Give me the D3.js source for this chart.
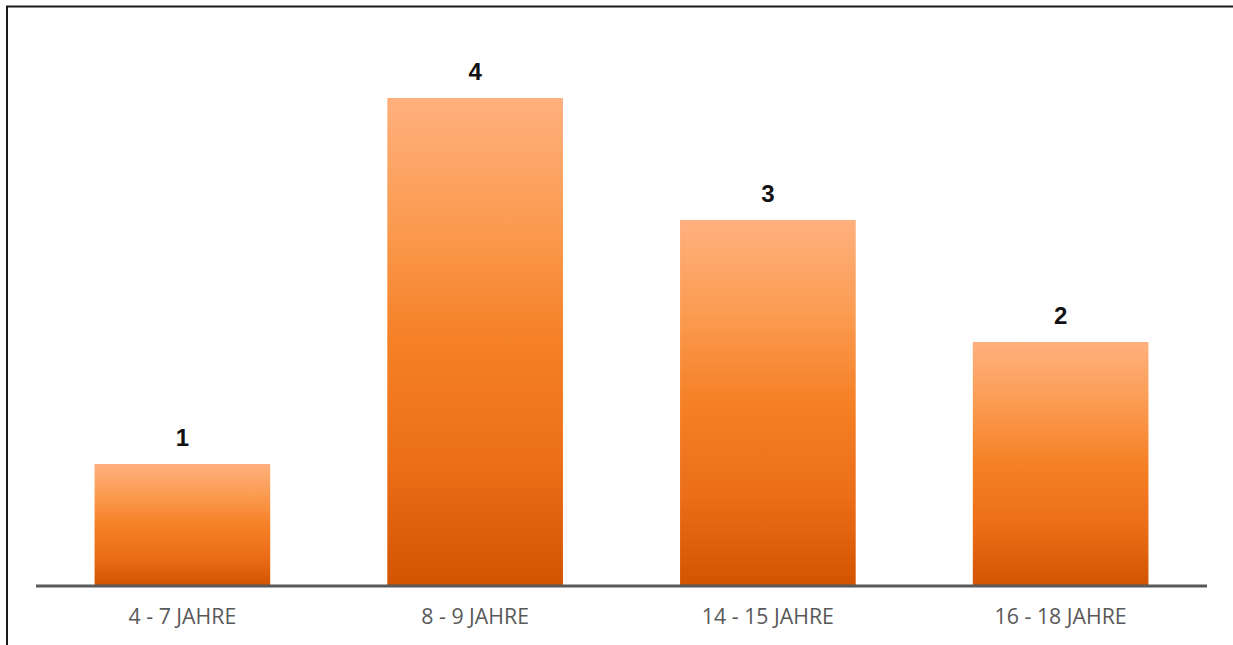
<!DOCTYPE html>
<html>
<head>
<meta charset="utf-8">
<script src="https://cdn.jsdelivr.net/npm/d3@7"></script>
<style>
  html, body { margin: 0; padding: 0; background: #fff; }
  svg { display: block; }
</style>
</head>
<body>
<div id="chart"></div>
<script>
// Age groups and number of participants per group
const categories = ["4 - 7 JAHRE", "8 - 9 JAHRE", "14 - 15 JAHRE", "16 - 18 JAHRE"];
const values = [1, 4, 3, 2];

const W = 1233, H = 645;
const margin = { left: 36, right: 26, top: 0, bottom: 59 };
const baseline = 586;

const svg = d3.select("#chart").append("svg")
  .attr("width", W).attr("height", H);

// Vertical gradient used for every bar
const defs = svg.append("defs");
const grad = defs.append("linearGradient")
  .attr("id", "barFill")
  .attr("x1", 0).attr("y1", 0).attr("x2", 0).attr("y2", 1);
[
  ["0%", "#ffb07e"],
  ["25%", "#fb9c52"],
  ["50%", "#f58026"],
  ["75%", "#ec6e19"],
  ["100%", "#d35400"]
].forEach(([o, c]) => grad.append("stop").attr("offset", o).attr("stop-color", c));

// Frame lines along the top and left edge
svg.append("line").attr("x1", 6).attr("x2", W).attr("y1", 6.5).attr("y2", 6.5)
  .attr("stroke", "#1a1a1a").attr("stroke-width", 2);
svg.append("line").attr("x1", 7).attr("x2", 7).attr("y1", 6).attr("y2", H)
  .attr("stroke", "#1a1a1a").attr("stroke-width", 2);

const x = d3.scaleBand()
  .domain(categories)
  .range([margin.left, W - margin.right])
  .paddingInner(0.4)
  .paddingOuter(0.2);

const y = d3.scaleLinear()
  .domain([0, 4])
  .range([baseline, 98]);

// Bars
svg.append("g").selectAll("rect")
  .data(values)
  .join("rect")
  .attr("x", (d, i) => x(categories[i]))
  .attr("width", x.bandwidth())
  .attr("y", d => y(d))
  .attr("height", d => y(0) - y(d))
  .attr("fill", "url(#barFill)");

// Value labels above the bars
svg.append("g").selectAll("text")
  .data(values)
  .join("text")
  .attr("x", (d, i) => x(categories[i]) + x.bandwidth() / 2)
  .attr("y", d => y(d) - 18)
  .attr("text-anchor", "middle")
  .attr("font-family", "Liberation Sans, Arial, sans-serif")
  .attr("font-weight", "bold")
  .attr("font-size", 24)
  .attr("fill", "#111")
  .text(d => d);

// Category axis
const axis = svg.append("g")
  .attr("transform", `translate(0,${baseline})`)
  .call(d3.axisBottom(x).tickSize(0).tickPadding(23));
axis.select(".domain")
  .attr("stroke", "#595959")
  .attr("stroke-width", 3)
  .attr("d", `M${margin.left},0H${W - margin.right}`);
axis.selectAll(".tick text")
  .attr("font-family", "Open Sans, sans-serif")
  .attr("font-size", 21.3)
  .attr("fill", "#595959");
</script>
</body>
</html>
